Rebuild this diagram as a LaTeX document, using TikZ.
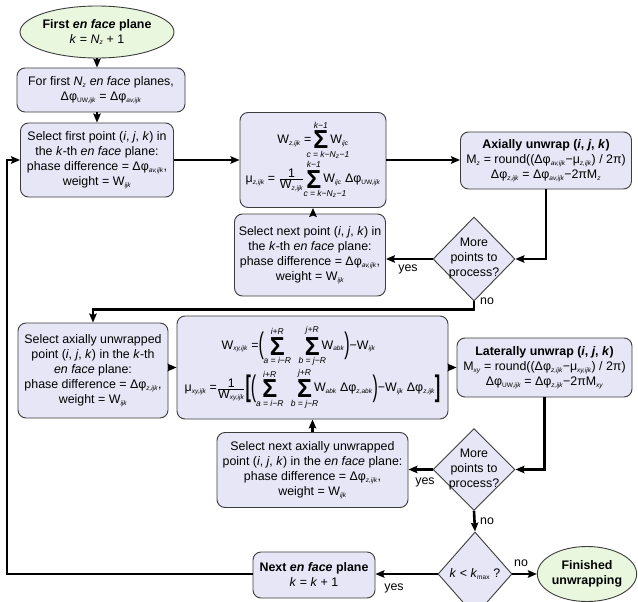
\documentclass[tikz,border=0pt]{standalone}
\usepackage{fontspec}
\setmainfont{Liberation Sans}
\usepackage{graphicx}
\usetikzlibrary{shapes.geometric,arrows.meta}
\definecolor{boxfill}{RGB}{230,230,246}
\definecolor{greenfill}{RGB}{232,247,222}
\definecolor{edgec}{RGB}{60,60,60}
\newcommand\fs{\fontsize{12.4}{15}\selectfont}
\newcommand\sbs[1]{\textsubscript{\fontsize{6.5}{6.5}\selectfont\itshape #1}}
\newcommand\limf{\fontsize{8.5}{9}\selectfont\itshape}
% #1 top limit, #2 bottom limit, #3 shift of bottom limit
\newcommand\bsumx[3]{\mathop{\vcenter{\offinterlineskip\halign{\hfil##\hfil\cr
  \hbox to 0pt{\hss\limf #1\hss}\cr\noalign{\kern2.5pt}
  \scalebox{2.0}[2.1]{\bfseries Σ}\cr\noalign{\kern2.5pt}
  \hbox to 0pt{\hss\hskip#3\limf #2\hss}\cr}}}}
\newcommand\bsum[2]{\bsumx{#1}{#2}{0pt}}
\newcommand\bdel[1]{\vcenter{\hbox{\scalebox{1.3}[2.4]{#1}}}}
\newcommand\tx[1]{\hbox{#1}}
\tikzset{
  box/.style={draw=edgec, fill=boxfill, line width=0.9pt, rounded corners=8pt, align=center, inner sep=0pt, font=\fs},
  dia/.style={draw=edgec, fill=boxfill, line width=0.9pt, diamond, inner sep=0pt},
  ell/.style={draw=edgec, fill=greenfill, line width=0.9pt, ellipse, inner sep=0pt, align=center, font=\fs},
  arr/.style={line width=2.6pt, -{Stealth[length=9pt,width=7.5pt,inset=1.5pt]}},
  lbl/.style={font=\fs, inner sep=0pt},
  txt/.style={align=center, font=\fs, inner sep=0pt},
}
\begin{document}
\begin{tikzpicture}[x=1pt,y=-1pt]
\useasboundingbox (0,0) rectangle (638,602);
\fill[white] (0,0) rectangle (638,602);
\clip (0,0) rectangle (638,602);

\node[ell, minimum width=130, minimum height=52] (e1) at (97,32)
  {\textbf{First \textit{en face} plane}\\\textit{k} = \textit{N}\sbs{z} + 1};
\node[box, minimum width=168, minimum height=44] (b2) at (101,90)
  {For first \textit{N}\sbs{z} \textit{en face} planes,\\Δφ\sbs{\upshape UW,\itshape ijk} = Δφ\sbs{av,ijk}};
\node[box, minimum width=153, minimum height=74] (b3) at (97,160)
  {Select first point (\textit{i}, \textit{j}, \textit{k}) in\\the \textit{k}-th \textit{en face} plane:\\phase difference = Δφ\sbs{av,ijk},\\weight = W\sbs{ijk}};
\node[box, minimum width=146, minimum height=95] (b4) at (313,160)
  {$\tx{W\sbs{z,ijk} =}\bsumx{k−1}{c = k−N\sbs{z}−1}{14pt}\tx{W\sbs{ijc}}$\\[2pt]
   $\tx{μ\sbs{z,ijk} = }\frac{\tx{1}}{\tx{W\sbs{z,ijk}}}\bsumx{k−1}{c = k−N\sbs{z}−1}{22pt}\tx{W\sbs{ijc} Δφ\sbs{\upshape UW,\itshape ijk}}$};
\node[box, minimum width=171, minimum height=57] (b5) at (546,160.5)
  {\textbf{Axially unwrap (\textit{i}, \textit{j}, \textit{k})}\\M\sbs{z} = round((Δφ\sbs{av,ijk}−μ\sbs{z,ijk}) / 2π)\\Δφ\sbs{z,ijk} = Δφ\sbs{av,ijk}−2πM\sbs{z}};
\node[dia, minimum width=82, minimum height=84] (d1) at (474,259) {};
\node[txt] (d1t) at (d1) {More\\points to\\process?};
\node[box, minimum width=151, minimum height=82] (b6) at (310,255)
  {Select next point (\textit{i}, \textit{j}, \textit{k}) in\\the \textit{k}-th \textit{en face} plane:\\phase difference = Δφ\sbs{av,ijk},\\weight = W\sbs{ijk}};
\node[box, minimum width=150, minimum height=95] (b7) at (93,370.5)
  {Select axially unwrapped\\point (\textit{i}, \textit{j}, \textit{k}) in the \textit{k}-th\\\textit{en face} plane:\\phase difference = Δφ\sbs{z,ijk},\\weight = W\sbs{ijk}};
\node[box, minimum width=271, minimum height=103] (b8) at (312.5,367.5)
  {$\tx{W\sbs{xy,ijk} =}\bdel{(}\hskip4pt\bsum{i+R}{a = i−R}\hskip18pt\bsum{j+R}{b = j−R}\tx{W\sbs{abk}}\bdel{)}\tx{−W\sbs{ijk}}\hskip28pt$\\[3pt]
   $\tx{μ\sbs{xy,ijk} =}\frac{\tx{1}}{\tx{W\sbs{xy,ijk}}}\bdel{\bfseries[}\bdel{(}\hskip4pt\bsum{i+R}{a = i−R}\hskip18pt\bsum{j+R}{b = j−R}\tx{W\sbs{abk} Δφ\sbs{z,abk}}\bdel{)}\tx{−W\sbs{ijk} Δφ\sbs{z,ijk}}\bdel{\bfseries]}$};
\node[box, minimum width=175, minimum height=59] (b9) at (544.5,367.5)
  {\textbf{Laterally unwrap (\textit{i}, \textit{j}, \textit{k})}\\M\sbs{xy} = round((Δφ\sbs{z,ijk}−μ\sbs{xy,ijk}) / 2π)\\Δφ\sbs{\upshape UW,\itshape ijk} = Δφ\sbs{z,ijk}−2πM\sbs{xy}};
\node[dia, minimum width=82, minimum height=82] (d2) at (474,469.5) {};
\node[txt] (d2t) at (d2) {More\\points to\\process?};
\node[box, minimum width=191, minimum height=75] (b10) at (312.5,470)
  {Select next axially unwrapped\\point (\textit{i}, \textit{j}, \textit{k}) in the \textit{en face} plane:\\phase difference = Δφ\sbs{z,ijk},\\weight = W\sbs{ijk}};
\node[dia, minimum width=74, minimum height=84] (d3) at (475,574) {};
\node[txt] (d3t) at (d3) {\textit{k} < \textit{k}\sbs{\upshape max} ?};
\node[box, minimum width=122, minimum height=46] (nx) at (314,575)
  {\textbf{Next \textit{en face} plane}\\\textit{k} = \textit{k} + 1};
\node[ell, minimum width=88, minimum height=55] (fin) at (587,574)
  {\textbf{Finished}\\\textbf{unwrapping}};

\node[lbl] (y1) at (408,269) {yes};
\node[lbl] (n1) at (487,301) {no};
\node[lbl] (y2) at (425,482) {yes};
\node[lbl] (n2) at (487,521) {no};
\node[lbl] (n3) at (521,563) {no};
\node[lbl] (y3) at (394,588) {yes};

\coordinate (lp) at (7,0);
\draw[arr] (e1.south) -- (e1.south |- b2.north);
\draw[arr] (b3.north |- b2.south) -- (b3.north);
\draw[arr] (b3.east) -- (b4.west);
\draw[arr] (b4.east) -- (b4.east -| b5.west);
\draw[arr] (b5.south) |- (d1.east);
\draw[arr] (d1.west) -- (d1.west -| b6.east);
\draw[arr] (b4.south |- b6.north) -- (b4.south);
\draw[arr] (d1.south) -- ++(0,8) -| (b7.north);
\draw[arr] (b7.east |- b8.west) -- (b8.west);
\draw[arr] (b8.east) -- (b9.west);
\draw[arr] (b9.south) |- (d2.east);
\draw[arr] (d2.west) -- (b10.east |- d2.west);
\draw[arr] (b8.south |- b10.north) -- (b8.south);
\draw[arr] (d2.south) -- (d3.north);
\draw[arr] (d3.west) -- (nx.east |- d3.west);
\draw[arr] (d3.east) -- (fin.west);
\draw[arr] (nx.west |- d3.west) -| (lp |- b3.west) -- (b3.west);
\end{tikzpicture}
\end{document}
